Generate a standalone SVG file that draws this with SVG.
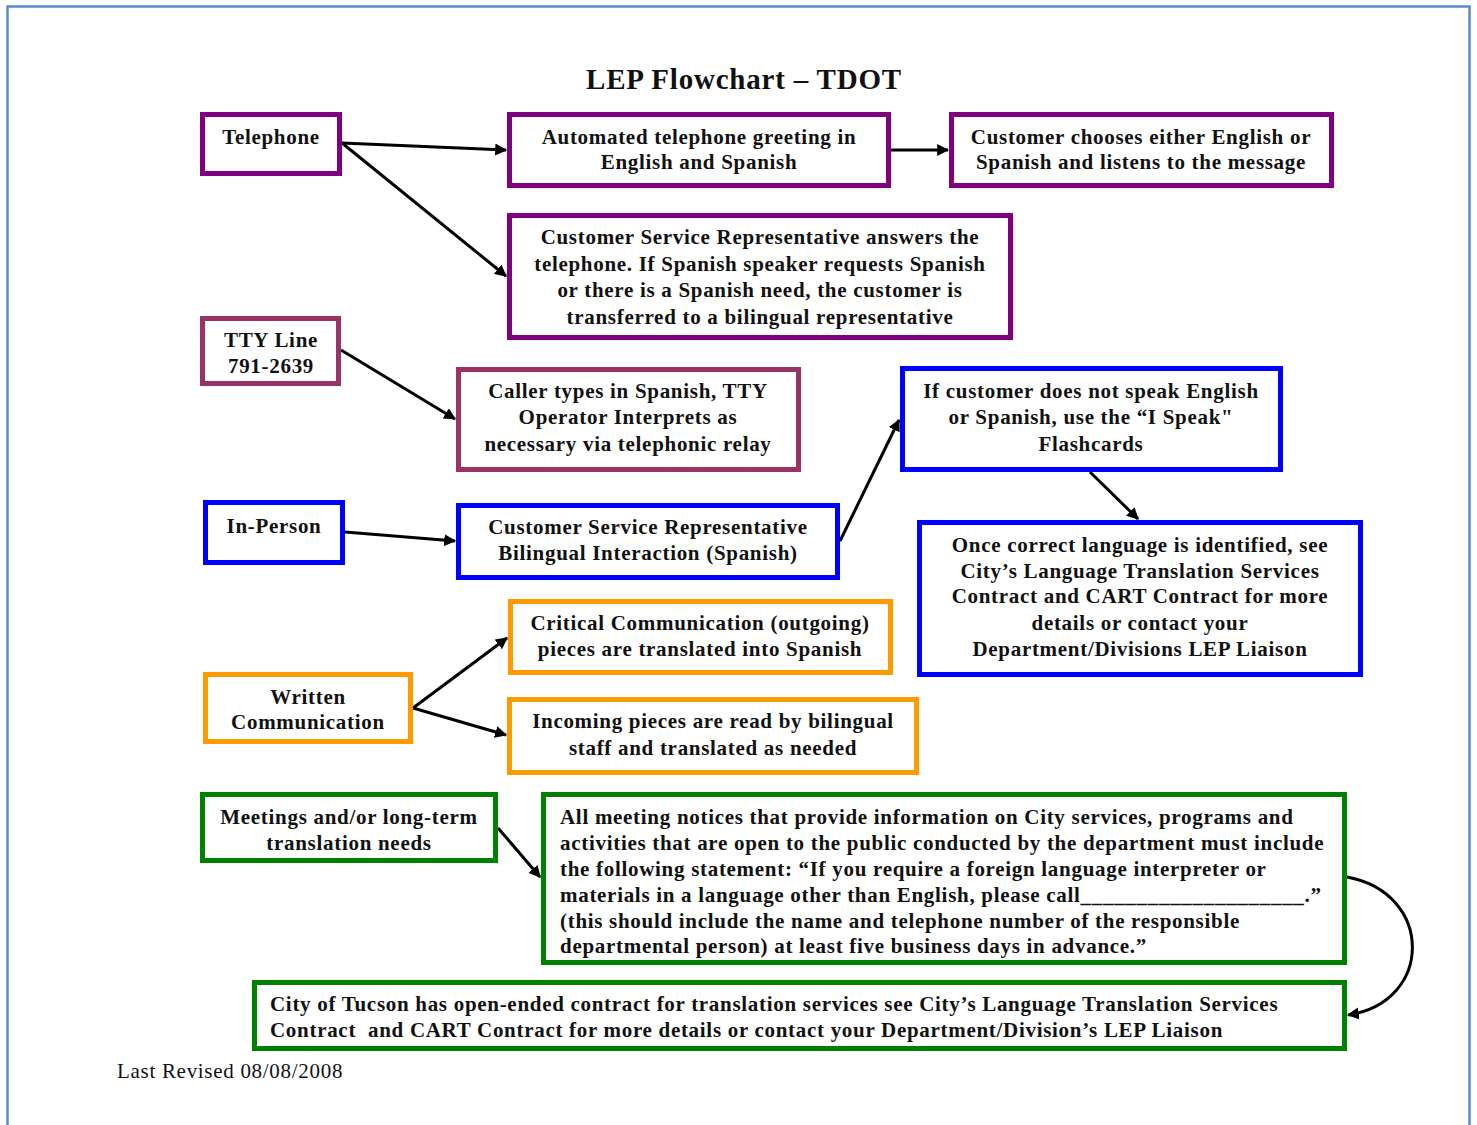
<svg xmlns="http://www.w3.org/2000/svg" width="1477" height="1125" viewBox="0 0 1477 1125">
<style>
.t{font-family:"Liberation Serif","Times New Roman",serif;font-weight:bold;font-size:21px;letter-spacing:0.7px;fill:#111;text-anchor:middle}
.l{text-anchor:start}
.b{fill:#fff;stroke-width:5}
.pu{stroke:#800080}
.ma{stroke:#993366}
.bl{stroke:#0000ff}
.or{stroke:#ff9900}
.gr{stroke:#008000}
.c{stroke:#000;stroke-width:3;fill:none;marker-end:url(#ah)}
</style>
<defs>
<marker id="ah" viewBox="0 0 10 10" refX="9" refY="5" markerWidth="4" markerHeight="4" orient="auto" markerUnits="strokeWidth">
<path d="M0,0 L10,5 L0,10 z" fill="#000"/>
</marker>
</defs>
<rect x="0" y="0" width="1477" height="1125" fill="#fff"/>
<path d="M7.5,1125 V6.5 H1469.5 V1125" fill="none" stroke="#5b8bd0" stroke-width="2.5"/>
<text x="744" y="89" class="t" style="font-size:29px;letter-spacing:0.8px">LEP Flowchart – TDOT</text>

<g id="connectors">
<path class="c" d="M342,143 L506,150"/>
<path class="c" d="M342,143 L506,276"/>
<path class="c" d="M891,150 L948,150"/>
<path class="c" d="M341,350 L455,419"/>
<path class="c" d="M345,532 L455,541"/>
<path class="c" d="M840,541 L899,420"/>
<path class="c" d="M1090,472 L1138,519"/>
<path class="c" d="M413,708 L507,638"/>
<path class="c" d="M413,708 L506,735"/>
<path class="c" d="M498,828 L540,877"/>
<path class="c" d="M1347,877 C1434,893 1434,1002 1348,1015"/>
</g>

<g id="telephone"><rect class="b pu" x="202.5" y="114.5" width="137" height="59"/><text class="t" x="271" y="144">Telephone</text></g>
<g id="automated"><rect class="b pu" x="509.5" y="114.5" width="379" height="71"/><text class="t" x="699" y="144">Automated telephone greeting in</text><text class="t" x="699" y="169">English and Spanish</text></g>
<g id="chooses"><rect class="b pu" x="951.5" y="114.5" width="380" height="71"/><text class="t" x="1141" y="144">Customer chooses either English or</text><text class="t" x="1141" y="169">Spanish and listens to the message</text></g>
<g id="csr-answers"><rect class="b pu" x="509.5" y="215.5" width="501" height="122"/><text class="t" x="760" y="244">Customer Service Representative answers the</text><text class="t" x="760" y="271">telephone. If Spanish speaker requests Spanish</text><text class="t" x="760" y="297">or there is a Spanish need, the customer is</text><text class="t" x="760" y="324">transferred to a bilingual representative</text></g>
<g id="tty"><rect class="b ma" x="202.5" y="318.5" width="136" height="65"/><text class="t" x="271" y="347">TTY Line</text><text class="t" x="271" y="373">791-2639</text></g>
<g id="caller-types"><rect class="b ma" x="458.5" y="369.5" width="340" height="100"/><text class="t" x="628" y="398">Caller types in Spanish, TTY</text><text class="t" x="628" y="424">Operator Interprets as</text><text class="t" x="628" y="451">necessary via telephonic relay</text></g>
<g id="i-speak"><rect class="b bl" x="902.5" y="368.5" width="378" height="101"/><text class="t" x="1091" y="398">If customer does not speak English</text><text class="t" x="1091" y="424">or Spanish, use the “I Speak"</text><text class="t" x="1091" y="451">Flashcards</text></g>
<g id="in-person"><rect class="b bl" x="205.5" y="502.5" width="137" height="60"/><text class="t" x="274" y="533">In-Person</text></g>
<g id="csr-bilingual"><rect class="b bl" x="458.5" y="505.5" width="379" height="72"/><text class="t" x="648" y="534">Customer Service Representative</text><text class="t" x="648" y="560">Bilingual Interaction (Spanish)</text></g>
<g id="once-correct"><rect class="b bl" x="919.5" y="522.5" width="441" height="152"/><text class="t" x="1140" y="552">Once correct language is identified, see</text><text class="t" x="1140" y="578">City’s Language Translation Services</text><text class="t" x="1140" y="603">Contract and CART Contract for more</text><text class="t" x="1140" y="630">details or contact your</text><text class="t" x="1140" y="656">Department/Divisions LEP Liaison</text></g>
<g id="critical"><rect class="b or" x="510.5" y="601.5" width="380" height="71"/><text class="t" x="700" y="630">Critical Communication (outgoing)</text><text class="t" x="700" y="656">pieces are translated into Spanish</text></g>
<g id="written"><rect class="b or" x="205.5" y="674.5" width="205" height="67"/><text class="t" x="308" y="704">Written</text><text class="t" x="308" y="729">Communication</text></g>
<g id="incoming"><rect class="b or" x="509.5" y="699.5" width="407" height="73"/><text class="t" x="713" y="728">Incoming pieces are read by bilingual</text><text class="t" x="713" y="755">staff and translated as needed</text></g>
<g id="meetings"><rect class="b gr" x="202.5" y="794.5" width="293" height="66"/><text class="t" x="349" y="824">Meetings and/or long-term</text><text class="t" x="349" y="850">translation needs</text></g>
<g id="all-meeting"><rect class="b gr" x="543.5" y="794.5" width="801" height="168"/>
<text class="t l" x="560" y="824">All meeting notices that provide information on City services, programs and</text>
<text class="t l" x="560" y="850">activities that are open to the public conducted by the department must include</text>
<text class="t l" x="560" y="876">the following statement: “If you require a foreign language interpreter or</text>
<text class="t l" x="560" y="902">materials in a language other than English, please call____________________.”</text>
<text class="t l" x="560" y="928">(this should include the name and telephone number of the responsible</text>
<text class="t l" x="560" y="953">departmental person) at least five business days in advance.”</text></g>
<g id="city-tucson"><rect class="b gr" x="254.5" y="982.5" width="1090" height="66"/>
<text class="t l" x="270" y="1011">City of Tucson has open-ended contract for translation services see City’s Language Translation Services</text>
<text class="t l" x="270" y="1037">Contract&#160; and CART Contract for more details or contact your Department/Division’s LEP Liaison</text></g>
<text x="117" y="1078" style="font-family:'Liberation Serif','Times New Roman',serif;font-size:21px;letter-spacing:0.7px;fill:#111">Last Revised 08/08/2008</text>
</svg>
